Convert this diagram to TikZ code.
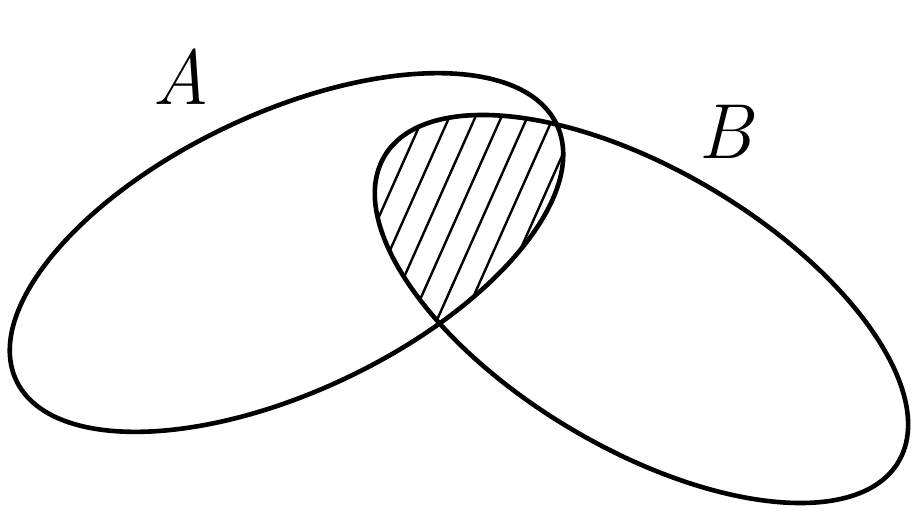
\documentclass[tikz,border=0pt]{standalone}
\usepackage{fontspec}
\begin{document}
\begin{tikzpicture}[x=0.5pt,y=0.5pt,
  setline/.style={line width=2.3pt,black},
  hatchline/.style={line width=1.2pt,black},
  setlabel/.style={inner sep=0pt,font=\fontsize{39}{39}\selectfont\itshape}]
\useasboundingbox (0,0) rectangle (924,531);
\coordinate (cA) at (286.5,278.5);
\coordinate (cB) at (641.5,222);
\begin{scope}
  \clip[rotate around={25.35:(cA)}] (cA) ellipse [x radius=299, y radius=139];
  \clip[rotate around={-30.75:(cB)}] (cB) ellipse [x radius=299, y radius=139];
  \foreach \k in {-10,...,6} {
    \draw[hatchline] ({446.7+26*\k-163},{408-366}) -- ++(326,732);
  }
\end{scope}
\draw[setline,rotate around={25.35:(cA)}] (cA) ellipse [x radius=299, y radius=139];
\draw[setline,rotate around={-30.75:(cB)}] (cB) ellipse [x radius=299, y radius=139];
\node[setlabel] (labA) at (181,454) {A};
\node[setlabel] (labB) at (725,399) {B};
\end{tikzpicture}
\end{document}
